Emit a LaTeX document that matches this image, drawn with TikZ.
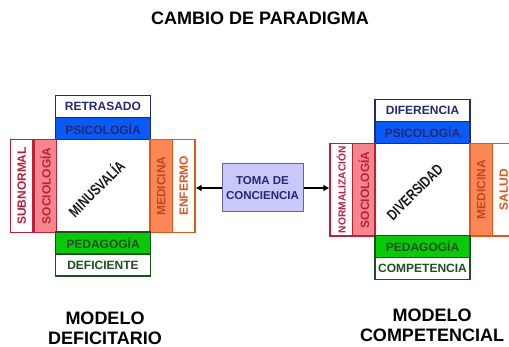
\documentclass[tikz,border=0pt]{standalone}
\usepackage{fontspec}
\setmainfont{Liberation Sans}
\usetikzlibrary{arrows.meta}
\definecolor{navy}{RGB}{35,40,120}
\definecolor{psiblue}{RGB}{10,90,245}
\definecolor{crimson}{RGB}{190,30,60}
\definecolor{pinkfill}{RGB}{245,135,140}
\definecolor{orangeline}{RGB}{225,85,30}
\definecolor{orangefill}{RGB}{250,135,85}
\definecolor{orangetext}{RGB}{195,70,30}
\definecolor{greenfill}{RGB}{10,200,10}
\definecolor{darkgreen}{RGB}{30,80,30}
\definecolor{tomafill}{RGB}{200,200,250}
\definecolor{tomaline}{RGB}{100,100,150}
\tikzset{
  lab/.style={draw, line width=1.2pt, inner sep=0pt, font=\bfseries\fontsize{12}{12}\selectfont},
  hbox/.style={lab, minimum width=95pt, minimum height=22pt},
  vbox/.style={lab, minimum width=92.5pt, minimum height=22.5pt, rotate=90},
  diag/.style={rotate=45, inner sep=0pt, text=black!90, font=\bfseries\fontsize{15}{15}\selectfont},
  head/.style={font=\bfseries\fontsize{18}{20}\selectfont, align=center, inner sep=0pt},
  conn/.style={line width=1.8pt, -{Latex[length=6pt,width=7pt]}}
}
\begin{document}
\begin{tikzpicture}[x=1pt,y=-1pt]
\useasboundingbox (0,0) rectangle (509,347);

\node[head] (titl) at (260,18.5) {CAMBIO DE PARADIGMA};

\fill[white] (56,140) rectangle (150,232);
\node[hbox, fill=white, draw=navy, text=navy] (retr) at (103,106.5) {RETRASADO};
\node[hbox, fill=psiblue, draw=navy, text=navy] (psil) at (103,128.75) {PSICOLOGÍA};
\node[vbox, fill=white, draw=crimson, text=crimson] (subn) at (21.75,186) {SUBNORMAL};
\node[vbox, fill=pinkfill, draw=crimson, text=crimson] (socl) at (45.25,186) {SOCIOLOGÍA};
\node[vbox, fill=orangefill, draw=orangeline, text=orangetext] (medl) at (161.25,186) {MEDICINA};
\node[vbox, fill=white, draw=orangeline, text=orangeline] (enfe) at (183.75,186) {ENFERMO};
\node[hbox, fill=greenfill, draw=darkgreen, text=darkgreen] (pedl) at (103,243) {PEDAGOGÍA};
\node[hbox, fill=white, draw=darkgreen, text=darkgreen] (defi) at (103,265) {DEFICIENTE};
\node[diag] (minu) at (96,188) {\scalebox{0.78}[1]{MINUSVALÍA}};

\fill[white] (375,143.5) rectangle (470,236);
\node[hbox, fill=white, draw=navy, text=navy] (dife) at (422.5,110.5) {DIFERENCIA};
\node[hbox, fill=psiblue, draw=navy, text=navy] (psir) at (422.5,132.5) {PSICOLOGÍA};
\node[vbox, fill=white, draw=crimson, text=crimson, font=\bfseries\fontsize{10.2}{11}\selectfont] (norm) at (341.25,189.75) {NORMALIZACIÓN};
\node[vbox, fill=pinkfill, draw=crimson, text=crimson] (socr) at (363.75,189.75) {SOCIOLOGÍA};
\node[vbox, fill=orangefill, draw=orangeline, text=orangetext] (medr) at (481.25,189.75) {MEDICINA};
\node[vbox, fill=white, draw=orangeline, text=orangeline] (salu) at (503.75,189.75) {SALUD};
\node[hbox, fill=greenfill, draw=darkgreen, text=darkgreen] (pedr) at (422.5,246.5) {PEDAGOGÍA};
\node[hbox, fill=white, draw=darkgreen, text=darkgreen] (comp) at (422.5,268.5) {COMPETENCIA};
\node[diag] (dive) at (415,192) {\scalebox{0.78}[1]{DIVERSIDAD}};

\node[draw=tomaline, fill=tomafill, line width=1pt, minimum width=81pt, minimum height=48pt,
  align=center, text=navy, font=\bfseries\fontsize{11.5}{15}\selectfont] (toma) at (262.5,188) {TOMA DE\\CONCIENCIA};
\draw[conn] (toma.west) -- (toma.west -| enfe.south);
\draw[conn] (toma.east) -- (toma.east -| norm.north);

\node[head] (mdef) at (105,328.5) {MODELO\\DEFICITARIO};
\node[head] (mcom) at (432,325) {MODELO\\COMPETENCIAL};

\end{tikzpicture}
\end{document}
